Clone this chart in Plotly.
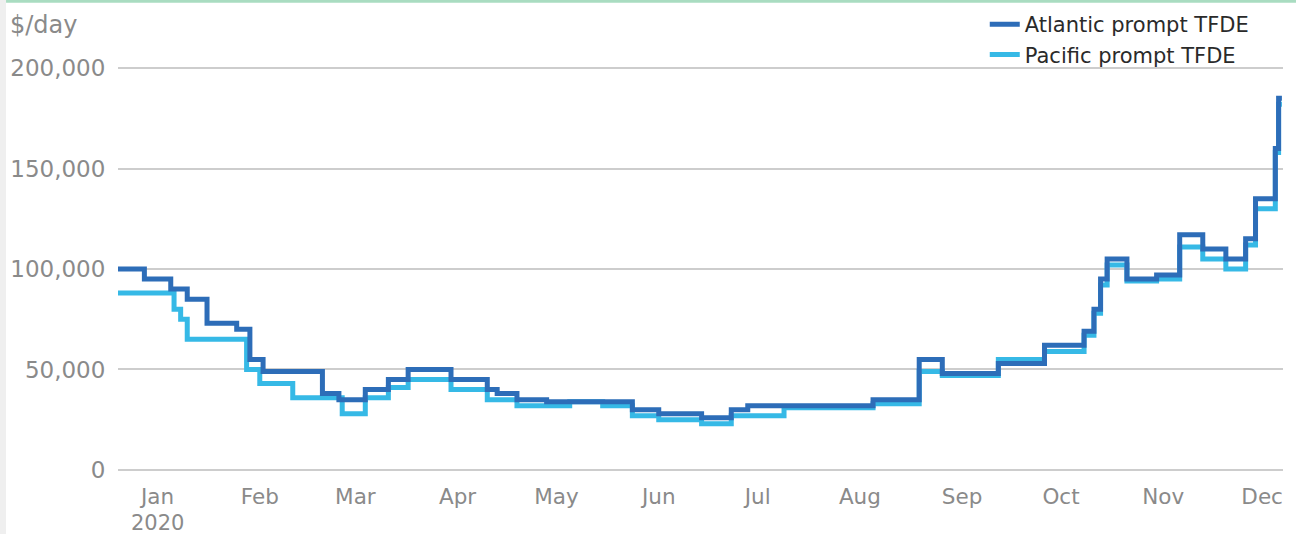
import plotly.graph_objects as go

# ---- data (step change points) ----
atl_dates = ["2019-12-20", "2019-12-28", "2020-01-05", "2020-01-10", "2020-01-16", "2020-01-25",
             "2020-01-29", "2020-02-02", "2020-02-20", "2020-02-25", "2020-03-04", "2020-03-11",
             "2020-03-17", "2020-03-30", "2020-04-10", "2020-04-13", "2020-04-19", "2020-04-28",
             "2020-05-24", "2020-06-01", "2020-06-14", "2020-06-23", "2020-06-28", "2020-08-05",
             "2020-08-19", "2020-08-26", "2020-09-12", "2020-09-26", "2020-10-08", "2020-10-11",
             "2020-10-13", "2020-10-15", "2020-10-21", "2020-10-30", "2020-11-06", "2020-11-13",
             "2020-11-20", "2020-11-26", "2020-11-29", "2020-12-05", "2020-12-06", "2020-12-07"]
atl_vals = [100000, 95000, 90000, 85000, 73000, 70000,
            55000, 49000, 38000, 35000, 40000, 45000,
            50000, 45000, 40000, 38000, 35000, 34000,
            30000, 28000, 26000, 30000, 32000, 35000,
            55000, 48000, 53000, 62000, 69000, 80000,
            95000, 105000, 95000, 97000, 117000, 110000,
            105000, 115000, 135000, 160000, 185000, 185000]

pac_dates = ["2019-12-20", "2020-01-06", "2020-01-08", "2020-01-10", "2020-01-28", "2020-02-01",
             "2020-02-11", "2020-02-26", "2020-03-04", "2020-03-11", "2020-03-17", "2020-03-30",
             "2020-04-10", "2020-04-19", "2020-05-05", "2020-05-15", "2020-05-24", "2020-06-01",
             "2020-06-14", "2020-06-23", "2020-07-09", "2020-08-05", "2020-08-19", "2020-08-26",
             "2020-09-12", "2020-09-26", "2020-10-08", "2020-10-11", "2020-10-13", "2020-10-15",
             "2020-10-21", "2020-10-30", "2020-11-06", "2020-11-13", "2020-11-20", "2020-11-26",
             "2020-11-29", "2020-12-05", "2020-12-06", "2020-12-07"]
pac_vals = [88000, 80000, 75000, 65000, 50000, 43000,
            36000, 28000, 36000, 41000, 45000, 40000,
            35000, 32000, 34000, 32000, 27000, 25000,
            23000, 27000, 31000, 33000, 49000, 47000,
            55000, 59000, 67000, 78000, 92000, 102000,
            94000, 95000, 111000, 105000, 100000, 112000,
            130000, 158000, 182000, 182000]

month_ticks = ["2020-01-01", "2020-02-01", "2020-03-01", "2020-04-01", "2020-05-01", "2020-06-01",
               "2020-07-01", "2020-08-01", "2020-09-01", "2020-10-01", "2020-11-01", "2020-12-01"]
month_labels = ["Jan", "Feb", "Mar", "Apr", "May", "Jun",
                "Jul", "Aug", "Sep", "Oct", "Nov", "Dec"]
year_label = "2020"
y_ticks = [0, 50000, 100000, 150000, 200000]
y_labels = ["0", "50,000", "100,000", "150,000", "200,000"]

ATL = "#2d6db8"
PAC = "#36b9e6"
FONT = "DejaVu Sans"
GREY = "#8a8a8a"

fig = go.Figure()
fig.add_trace(go.Scatter(x=pac_dates, y=pac_vals, mode="lines", name="Pacific prompt TFDE",
                         line=dict(color=PAC, width=5, shape="hv")))
fig.add_trace(go.Scatter(x=atl_dates, y=atl_vals, mode="lines", name="Atlantic prompt TFDE",
                         line=dict(color=ATL, width=5, shape="hv")))

fig.update_layout(
    width=1296, height=534,
    margin=dict(l=118, r=13, t=64, b=60, autoexpand=False),
    paper_bgcolor="white", plot_bgcolor="white",
    font=dict(family=FONT, color=GREY),
    showlegend=True,
    legend=dict(x=0.744, xanchor="left", y=1.146, yanchor="top",
                traceorder="reversed", bgcolor="rgba(0,0,0,0)",
                font=dict(family=FONT, size=21, color="#2a2a2a")),
    xaxis=dict(range=["2019-12-20", "2020-12-07 08:00"], type="date",
               tickvals=month_ticks, ticktext=month_labels, automargin=False,
               showgrid=False, zeroline=False, showline=False,
               ticks="outside", ticklen=3, tickcolor="rgba(0,0,0,0)",
               tickfont=dict(family=FONT, size=21.5, color=GREY)),
    yaxis=dict(range=[-2000, 202000], tickvals=y_ticks, ticktext=y_labels, automargin=False,
               showgrid=True, gridcolor="#cdcdcd", gridwidth=2,
               zeroline=False, showline=False,
               ticks="outside", ticklen=7, tickcolor="rgba(0,0,0,0)",
               tickfont=dict(family=FONT, size=23, color=GREY)),
    annotations=[
        dict(text="$/day", xref="paper", yref="paper",
             x=-0.0944, y=1.095, xanchor="left", yanchor="middle",
             showarrow=False, font=dict(family=FONT, size=24, color=GREY)),
        dict(text=year_label, xref="x", yref="paper",
             x=month_ticks[0], y=-0.1195, xanchor="center", yanchor="middle",
             showarrow=False, borderpad=0, font=dict(family=FONT, size=21, color=GREY)),
    ],
    shapes=[
        dict(type="rect", xref="paper", yref="paper", x0=-0.1013, x1=-0.0961,
             y0=-0.147, y1=1.157, fillcolor="#efefef", line=dict(width=0), layer="below"),
        dict(type="line", xref="paper", yref="paper", x0=-0.0961, x1=1.0112,
             y0=1.153, y1=1.153, line=dict(color="#a9dcc1", width=3)),
    ],
)

fig.write_html("out.html")
